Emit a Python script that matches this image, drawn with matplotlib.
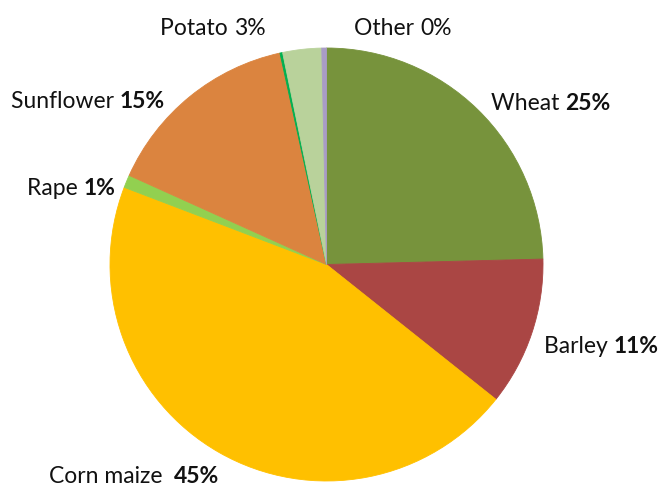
import matplotlib
matplotlib.use("Agg")
import matplotlib.pyplot as plt

# Crop shares (percent of total area)
crops = ["Wheat", "Barley", "Corn maize", "Rape", "Sunflower", "", "Potato", "Other"]
shares = [24.6, 11.1, 45.1, 0.95, 14.8, 0.2, 2.9, 0.35]
colors = ["#77933C", "#AA4644", "#FFC000", "#92D050", "#DB843F",
          "#00B050", "#B9D29B", "#A99CC6"]
bold_pct = [True, True, True, True, True, False, False, False]
name_gap = [" ", " ", "  ", " ", " ", " ", " ", " "]

# Label placement: (centre x, baseline y) in pixels from the top-left corner
label_pos = {
    "Wheat": (551, 110),
    "Barley": (601, 353),
    "Corn maize": (134, 483),
    "Rape": (71, 195),
    "Sunflower": (88, 108),
    "Potato": (213, 35),
    "Other": (403, 35),
}

W, H = 662, 488
fig = plt.figure(figsize=(W / 100, H / 100), dpi=100)
ax = fig.add_axes([0, 0, 1, 1])

cx, cy, r = 326.5, H - 264.5, 216.5
wedges, _ = ax.pie(shares, colors=colors, startangle=90, counterclock=False,
                   center=(cx, cy), radius=r,
                   wedgeprops=dict(linewidth=0.6))
for w, c in zip(wedges, colors):
    w.set_edgecolor(c)

ax.set_xlim(0, W)
ax.set_ylim(0, H)
ax.set_aspect("auto")
ax.axis("off")

font = "Lato"
fs = 16.5
renderer = fig.canvas.get_renderer()
total = sum(shares)
for name, val, b, gap in zip(crops, shares, bold_pct, name_gap):
    if not name:
        continue
    pct = f"{round(val / total * 100)}%"
    x, y = label_pos[name]
    y = H - y
    t1 = ax.text(0, y, name + gap, fontsize=fs, family=font, color="#111111",
                 ha="left", va="baseline")
    t2 = ax.text(0, y, pct, fontsize=fs, family=font, color="#111111",
                 fontweight="bold" if b else "normal", ha="left", va="baseline")
    w1 = t1.get_window_extent(renderer).width
    w2 = t2.get_window_extent(renderer).width
    left = x - (w1 + w2) / 2
    t1.set_x(left)
    t2.set_x(left + w1)

fig.savefig("out.png", dpi=100)
